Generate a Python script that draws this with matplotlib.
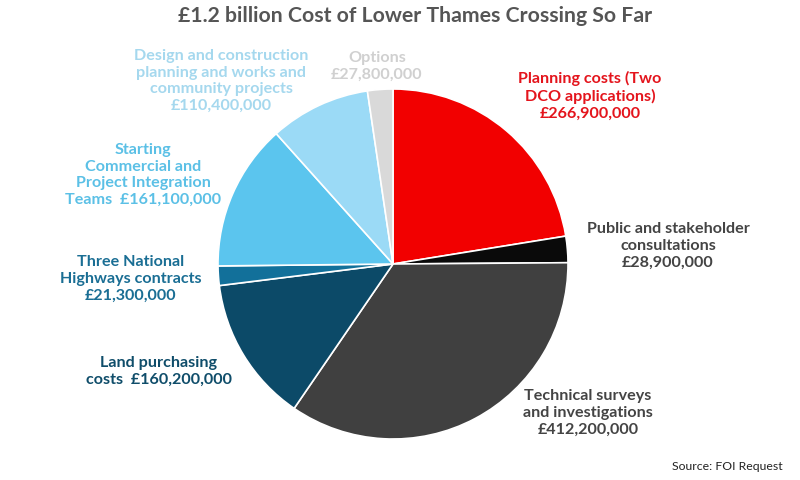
import matplotlib.pyplot as plt

# costs in £m, clockwise from 12 o'clock
labels = ["Planning costs (Two\nDCO applications)\n£266,900,000",
          "Public and stakeholder\nconsultations\n£28,900,000",
          "Technical surveys\nand investigations\n£412,200,000",
          "Land purchasing\ncosts  £160,200,000",
          "Three National\nHighways contracts\n£21,300,000",
          "Starting\nCommercial and\nProject Integration\nTeams  £161,100,000",
          "Design and construction\nplanning and works and\ncommunity projects\n£110,400,000",
          "Options\n£27,800,000"]
values = [266.9, 28.9, 412.2, 160.2, 21.3, 161.1, 110.4, 27.8]
wedge_colors = ["#f20000", "#0a0a0a", "#404040", "#0c4a68",
                "#12709a", "#5bc5ee", "#9bdaf6", "#d9d9d9"]
text_colors = ["#e4141c", "#444444", "#444444", "#0f4d6a",
               "#1a6e94", "#5bc0e6", "#a5d8ee", "#d0d0d0"]
# label block centres (pixels, y from top)
label_pos = [(590, 96), (668, 246), (588, 413), (159, 371),
             (131, 279), (143, 175), (221, 81), (377, 66)]

plt.rcParams['font.family'] = ['Lato', 'DejaVu Sans']

fig = plt.figure(figsize=(8, 4.8), dpi=100)
ax = fig.add_axes([0, 0, 1, 1])

ax.pie(values, colors=wedge_colors, startangle=90, counterclock=False,
       center=(393, 480 - 264), radius=175,
       wedgeprops=dict(edgecolor='white', linewidth=1.2))

# pie() resets the limits, so set them afterwards
ax.set_xlim(0, 800)
ax.set_ylim(0, 480)
ax.set_aspect('equal')
ax.axis('off')

for lab, (x, y), c in zip(labels, label_pos, text_colors):
    ax.text(x, 480 - y, lab, ha='center', va='center', color=c,
            fontsize=11.6, fontweight='bold', linespacing=1.25)

ax.text(415, 480 - 16, "£1.2 billion Cost of Lower Thames Crossing So Far",
        ha='center', va='center', color='#555555', fontsize=15.3, fontweight='bold')
ax.text(783, 480 - 467, "Source: FOI Request", ha='right', va='center',
        color='#222222', fontsize=8.8)

fig.savefig("out.png", dpi=100)
